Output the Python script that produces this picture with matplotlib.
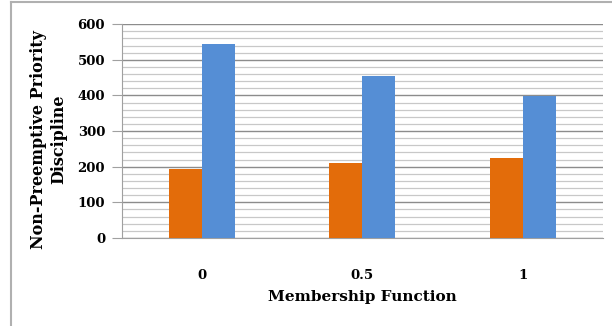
import numpy as np
import matplotlib
matplotlib.use('Agg')
import matplotlib.pyplot as plt
from matplotlib.lines import Line2D

#===============================================================================
categories = ['0', '0.5', '1']
series_a = [194, 209, 224]     # orange
series_b = [544, 454, 398]     # blue
y_ticks = [0, 100, 200, 300, 400, 500, 600]
#===============================================================================
plt.rcParams['font.family'] = ['DejaVu Serif']
plt.rcParams['font.weight'] = 'bold'

fig = plt.figure(figsize=(6.12, 3.26), dpi=100, facecolor='w')
ax = fig.add_axes([0.199, 0.270, 0.786, 0.656])

x = np.arange(len(categories))
w = 0.205
ax.bar(x - w/2, series_a, w, color='#E36C0A', zorder=3)
ax.bar(x + w/2, series_b, w, color='#558ED5', zorder=3)

ax.set_xlim(-0.5, len(categories) - 0.5)
ax.set_ylim(0, 600)
ax.set_yticks(y_ticks)
ax.set_yticks(np.arange(0, 601, 20), minor=True)
ax.set_xticks(x)
ax.set_xticklabels(categories)

ax.grid(axis='y', which='major', color='#8C8C8C', lw=1.0, zorder=0)
ax.grid(axis='y', which='minor', color='#C8C8C8', lw=0.9, zorder=0)
ax.grid(axis='x', visible=False)

for s in ['top', 'right']:
    ax.spines[s].set_visible(False)
ax.spines['left'].set_color('#A0A0A0')
ax.spines['bottom'].set_color('#A0A0A0')
ax.tick_params(axis='y', which='major', length=7, color='#A0A0A0', labelsize=9.5, pad=5)
ax.tick_params(axis='y', which='minor', length=0)
ax.tick_params(axis='x', length=0, labelsize=9.5, pad=22)

ax.set_xlabel('Membership Function', fontsize=11, fontweight='bold', labelpad=6)
ax.set_ylabel('Non-Preemptive Priority\nDiscipline', fontsize=11.5, fontweight='bold',
              linespacing=1.25, labelpad=8)
ax.yaxis.set_label_coords(-0.113, 0.46)

# outer frame (left and top edges visible)
fig.add_artist(Line2D([11/612, 11/612], [0, 1 - 2/326], transform=fig.transFigure,
                      color='#B0B0B0', lw=1.5))
fig.add_artist(Line2D([11/612, 1], [1 - 2/326, 1 - 2/326], transform=fig.transFigure,
                      color='#B0B0B0', lw=1.5))

plt.savefig('out.png', dpi=100)
